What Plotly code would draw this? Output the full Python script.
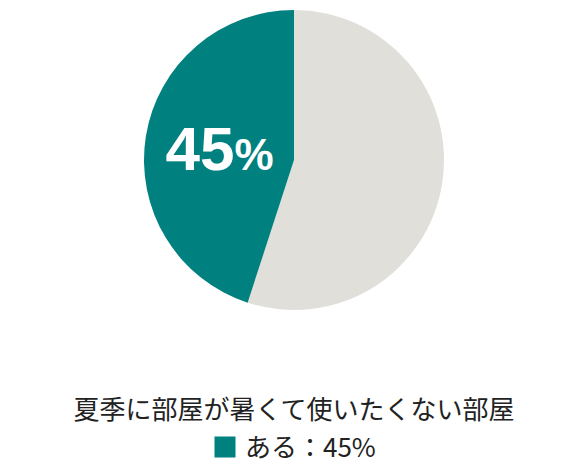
import plotly.graph_objects as go

# data (grey slice first so the teal slice ends at 12 o'clock)
labels = ["ない", "ある"]
values = [55, 45]
colors = ["#e0dfda", "#00807f"]
title_text = "夏季に部屋が暑くて使いたくない部屋"
legend_label = "ある：45%"

font_jp = "Noto Sans CJK JP"
W, H = 580, 470
off = 8  # page body margin

fig = go.Figure()

fig.add_trace(go.Pie(
    labels=labels,
    values=values,
    sort=False,
    direction="clockwise",
    rotation=0,
    marker=dict(colors=colors, line=dict(width=0)),
    texttemplate=["", "%{value}<span style='font-size:44px'>%</span>"],
    textposition="inside",
    insidetextorientation="horizontal",
    textfont=dict(family="Liberation Sans", size=62, color="white", weight="bold"),
    domain=dict(x=[(144 - off) / W, (444 - off) / W],
                y=[1 - (310 - off) / H, 1 - (10 - off) / H]),
    hoverinfo="label+percent",
    showlegend=False,
))

# dummy trace just for the legend swatch
fig.add_trace(go.Scatter(
    x=[None], y=[None],
    mode="markers",
    marker=dict(symbol="square", size=25, color=colors[1],
                line=dict(width=8, color=colors[1])),
    name=legend_label,
    showlegend=True,
))

fig.update_layout(
    width=W,
    height=H,
    margin=dict(l=0, r=0, t=0, b=0),
    paper_bgcolor="white",
    plot_bgcolor="white",
    font=dict(family=font_jp, color="#222222", size=22),
    xaxis=dict(visible=False),
    yaxis=dict(visible=False),
    title=dict(
        text=title_text,
        x=(294 - off) / W, xanchor="center", xref="paper",
        y=1 - (410 - off) / H, yanchor="middle", yref="paper",
        font=dict(size=26, color="#222222"),
    ),
    legend=dict(
        orientation="h",
        x=(293 - off) / W, xanchor="center",
        y=1 - (447 - off) / H, yanchor="middle",
        font=dict(size=26),
        itemsizing="trace",
        bgcolor="rgba(0,0,0,0)",
    ),
)

fig.write_html("out.html")
